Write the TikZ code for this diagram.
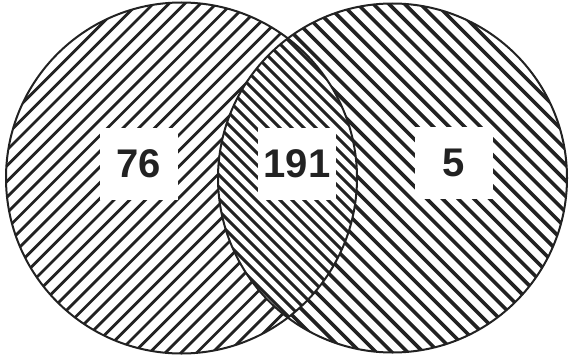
\documentclass[tikz,border=0pt]{standalone}
\usepackage{fontspec}
\setmainfont{Liberation Sans}
\definecolor{ink}{HTML}{222222}
\begin{document}
\begin{tikzpicture}[x=1pt,y=-1pt,
  hatchL/.style={ink, line width=2.8pt},
  hatchR/.style={ink, line width=3.6pt},
  hatchM/.style={ink, line width=3.0pt},
  rim/.style={ink, line width=2pt},
  numbox/.style={fill=white, minimum width=78pt, minimum height=72pt, inner sep=0pt,
    font=\fontsize{40}{40}\selectfont\bfseries, text=ink}]
\path[use as bounding box] (0,0) rectangle (569,356);
\coordinate (L) at (181.5,178);
\coordinate (R) at (392.5,178);
% left circle hatch
\begin{scope}
  \clip (L) circle[radius=175.5pt];
  \foreach \c in {0,15.7,...,800} \draw[hatchL] (\c,0) -- (\c-400,400);
\end{scope}
% right circle hatch
\begin{scope}
  \clip (R) circle[radius=174.5pt];
  \foreach \c in {-400,-384.3,...,600} \draw[hatchR] (\c,0) -- (\c+400,400);
\end{scope}
% lens
\begin{scope}
  \clip (L) circle[radius=175.5pt];
  \clip (R) circle[radius=174.5pt];
  \fill[white] (0,0) rectangle (569,356);
  \foreach \c in {-400,-388,...,600} \draw[hatchM] (\c,0) -- (\c+400,400);
\end{scope}
\draw[rim] (L) circle[radius=175.5pt];
\draw[rim] (R) circle[radius=174.5pt];
\node[numbox] (a) at (139,164) {76};
\node[numbox] (b) at (297,164) {191};
\node[numbox] (c) at (454,163) {5};
\end{tikzpicture}
\end{document}
